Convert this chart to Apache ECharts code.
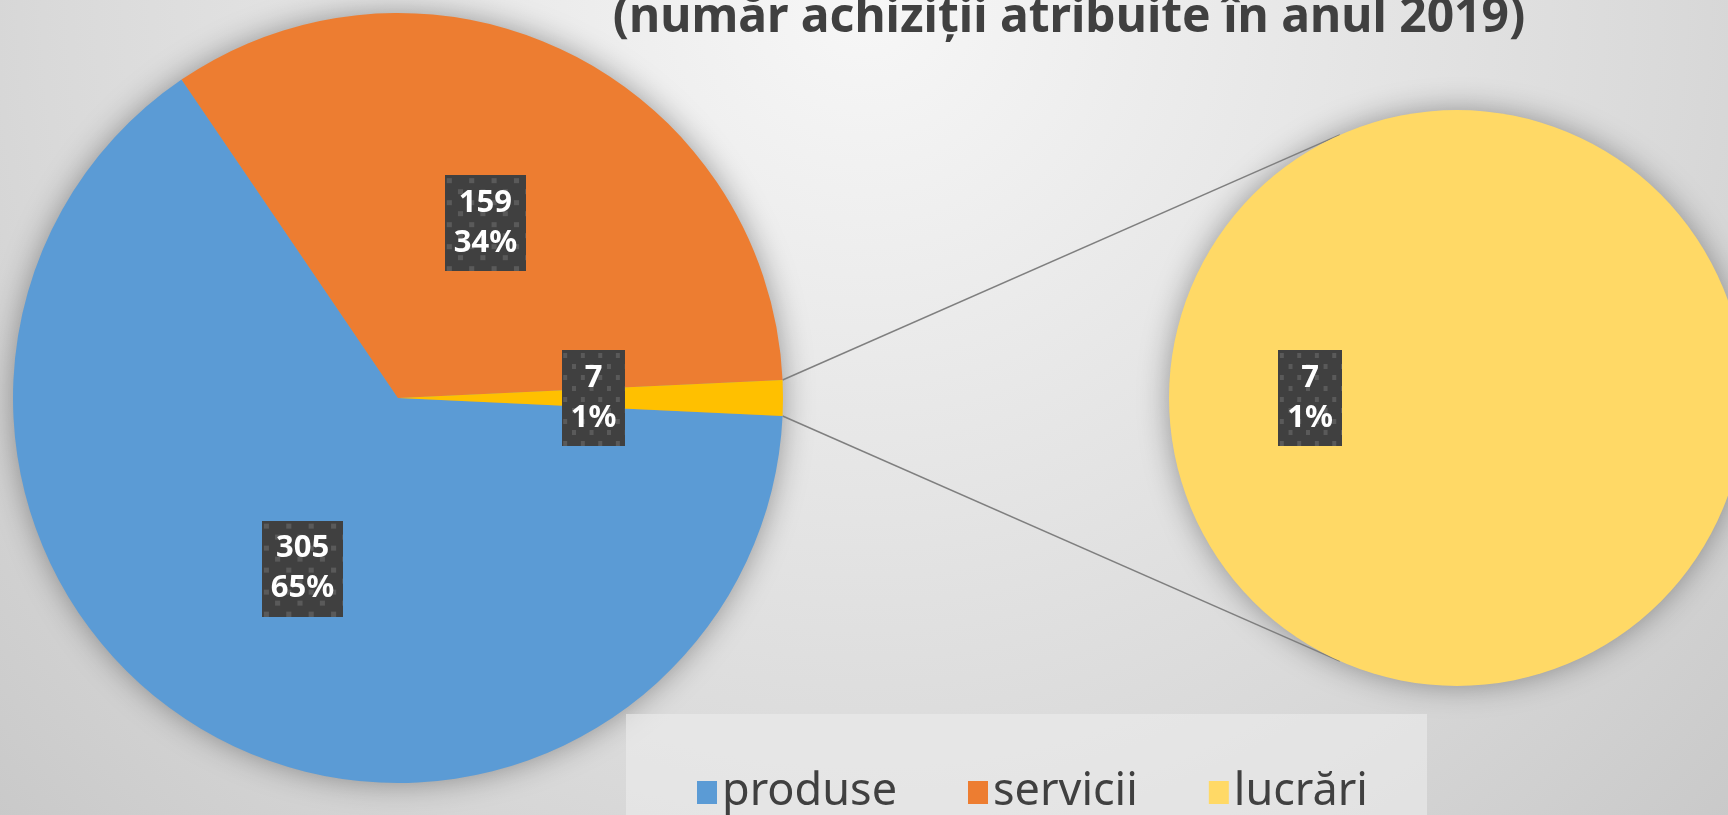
<!DOCTYPE html>
<html>
<head>
<meta charset="utf-8">
<style>
  html, body { margin: 0; padding: 0; }
  #chart { width: 1728px; height: 815px; }
</style>
<script src="https://cdn.jsdelivr.net/npm/echarts@6/dist/echarts.min.js"></script>
</head>
<body>
<div id="chart"></div>
<script>
// date
var categories = ["produse", "servicii", "lucrări"];
var values = [305, 159, 7];
var detailName = "lucrări";
var detailValue = 7;
var titleText = "(număr achiziții atribuite în anul 2019)";

(function() {
  var myChart = echarts.init(document.getElementById("chart"));

  var colors = ["#5B9BD5", "#ED7D31", "#FFC000"];
  var detailColor = "#FFD966";
  var font = "Noto Sans";

  // geometrie
  var mainC = [398, 398], mainR = 385;
  var detC = [1457, 398], detR = 288;

  var total = values.reduce(function(a, b) { return a + b; }, 0);
  var lastSpan = values[values.length - 1] / total * 360;
  var startAngle = 360 - lastSpan / 2;

  // fundal eticheta cu puncte
  function makeDots(w, h) {
    var c = document.createElement("canvas");
    c.width = w; c.height = h;
    var ctx = c.getContext("2d");
    ctx.fillStyle = "#404040";
    ctx.fillRect(0, 0, w, h);
    ctx.fillStyle = "#5a5a5a";
    for (var y = 3, row = 0; y < h; y += 11, row++) {
      for (var x = (row % 2 ? 13 : 2); x < w; x += 22) ctx.fillRect(x, y, 5, 5);
    }
    return c;
  }
  var dots = makeDots(80, 96);

  var labelStyle = {
    show: true,
    position: "inside",
    color: "#ffffff",
    fontFamily: font,
    fontSize: 31,
    fontWeight: "bold",
    lineHeight: 40,
    backgroundColor: { image: dots },
    padding: [8, 9, 8, 9],
    shadowBlur: 8,
    shadowOffsetX: 4,
    shadowOffsetY: 4,
    shadowColor: "rgba(0,0,0,0.5)"
  };

  var mainData = categories.map(function(n, i) {
    return { name: n, value: values[i], itemStyle: { color: colors[i] } };
  });

  // linii de legatura
  function pt(c, r, deg) {
    var a = deg * Math.PI / 180;
    return [c[0] + r * Math.cos(a), c[1] - r * Math.sin(a)];
  }
  var a1 = pt(mainC, mainR, lastSpan / 2), a2 = pt(mainC, mainR, -lastSpan / 2);
  var b1 = pt(detC, detR, 114), b2 = pt(detC, detR, -114);

  var pctFormatter = function(p) {
    return p.value + "\n" + Math.round(p.value / total * 100) + "%";
  };

  var option = {
    animation: false,
    backgroundColor: new echarts.graphic.RadialGradient(0.5, 0, 1.55, [
      { offset: 0, color: "#f7f7f7" },
      { offset: 0.65, color: "#d9d9d9" },
      { offset: 1, color: "#c6c6c6" }
    ]),
    graphic: [
      {
        type: "circle", z: 0, silent: true,
        shape: { cx: mainC[0], cy: mainC[1], r: mainR - 2 },
        style: { fill: "#999", shadowBlur: 32, shadowColor: "rgba(0,0,0,0.4)" }
      },
      {
        type: "circle", z: 0, silent: true,
        shape: { cx: detC[0], cy: detC[1], r: detR - 2 },
        style: { fill: "#999", shadowBlur: 32, shadowColor: "rgba(0,0,0,0.4)" }
      },
      {
        type: "rect", z: 0, silent: true,
        shape: { x: 626, y: 714, width: 801, height: 120 },
        style: { fill: "rgba(236,236,236,0.6)" }
      },
      {
        type: "line", z: 1, silent: true,
        shape: { x1: a1[0], y1: a1[1], x2: b1[0], y2: b1[1] },
        style: { stroke: "#7f7f7f", lineWidth: 1.5 }
      },
      {
        type: "line", z: 1, silent: true,
        shape: { x1: a2[0], y1: a2[1], x2: b2[0], y2: b2[1] },
        style: { stroke: "#7f7f7f", lineWidth: 1.5 }
      },
      {
        type: "text", z: 5, silent: true,
        style: {
          x: 1069, y: 18, text: titleText,
          textAlign: "center", textVerticalAlign: "middle",
          fill: "#404040", font: "bold 48px 'Noto Sans'"
        }
      }
    ],
    legend: {
      data: categories.map(function(n, i) {
        return n === detailName
          ? { name: n, itemStyle: { color: detailColor } }
          : { name: n };
      }),
      left: 697,
      top: 770,
      padding: 0,
      icon: "rect",
      itemWidth: 20,
      itemHeight: 23,
      itemGap: 71,
      selectedMode: false,
      textStyle: { fontFamily: font, fontSize: 45, color: "#404040" }
    },
    series: [
      {
        type: "pie",
        center: mainC,
        radius: mainR,
        startAngle: startAngle,
        clockwise: true,
        data: mainData,
        labelLine: { show: false },
        label: Object.assign({}, labelStyle, { formatter: pctFormatter })
      },
      {
        type: "pie",
        center: detC,
        radius: detR,
        startAngle: 0,
        clockwise: true,
        data: [{ name: detailName, value: detailValue, itemStyle: { color: detailColor } }],
        labelLine: { show: false },
        label: Object.assign({}, labelStyle, { formatter: pctFormatter })
      }
    ]
  };

  myChart.setOption(option);
})();
</script>
</body>
</html>
